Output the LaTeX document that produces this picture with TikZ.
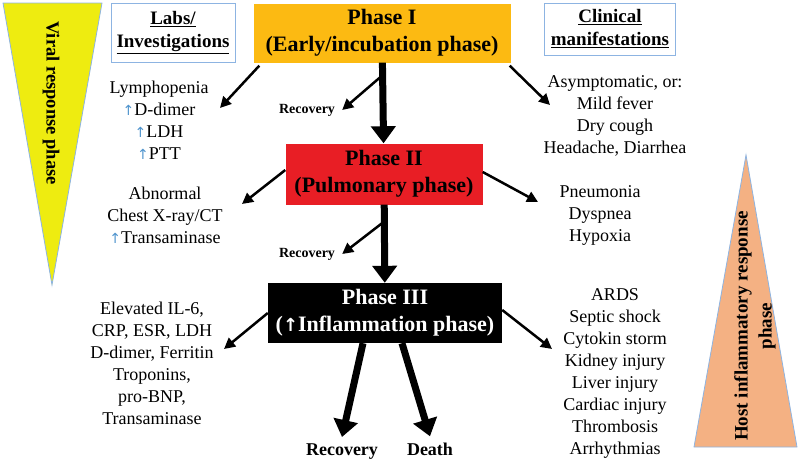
\documentclass[tikz,border=0pt]{standalone}
\usepackage{fontspec}
\setmainfont{Liberation Serif}
\newfontfamily\symfont{DejaVu Sans}
\usetikzlibrary{arrows.meta}
\definecolor{viral}{RGB}{238,236,16}
\definecolor{host}{RGB}{244,177,131}
\definecolor{gold}{RGB}{252,186,18}
\definecolor{phred}{RGB}{232,30,37}
\definecolor{edgeblue}{RGB}{141,180,226}
\definecolor{upblue}{RGB}{79,148,205}
\newcommand{\incr}{{\symfont\fontsize{14}{14}\selectfont\textcolor{upblue}{↑}}}
\newcommand{\incrw}{{\symfont\bfseries\fontsize{18}{18}\selectfont\textcolor{white}{↑}}}

\tikzstyle{phase} = [align=center,font=\fontsize{22}{27}\selectfont\bfseries,inner sep=0pt]
\tikzstyle{head} = [draw=edgeblue,line width=0.8pt,fill=white,align=center,font=\fontsize{19}{23}\selectfont\bfseries,inner sep=0pt]
\tikzstyle{list} = [align=center,font=\fontsize{18}{22}\selectfont,inner sep=1pt]
\tikzstyle{recov} = [font=\fontsize{14}{16}\selectfont\bfseries,inner sep=2pt]
\tikzstyle{outcome} = [font=\fontsize{18}{22}\selectfont\bfseries,inner sep=2pt,anchor=base]
\tikzstyle{link} = [line width=2.5pt,-{Triangle[width=11pt,length=11pt]}]
\tikzstyle{flow} = [line width=7pt,-{Triangle[width=24pt,length=17pt]}]
\tikzstyle{band} = [font=\fontsize{19}{24}\selectfont\bfseries,align=center]

\begin{document}
\begin{tikzpicture}[x=1pt,y=-1pt]
	\useasboundingbox (0,0) rectangle (800,463);
	\draw[fill=viral,draw=edgeblue,line width=0.8pt] (3,3) -- (102,3) -- (52,285) -- cycle;
	\draw[fill=host,draw=edgeblue,line width=0.8pt] (746,155) -- (797,447) -- (694,447) -- cycle;
	\node[band,font=\fontsize{18.5}{23}\selectfont\bfseries,rotate=-90] (vir) at (51,103) {Viral response phase};
	\node[band,rotate=90] (hst) at (755,326) {Host inflammatory response\\phase};
	\node[head,minimum width=124pt,minimum height=59pt] (labs) at (173,33) {\underline{Labs/}\\\underline{Investigations}};
	\node[head,minimum width=131pt,minimum height=52pt] (clin) at (610,29) {\underline{Clinical}\\\underline{manifestations}};
	\node[phase,fill=gold,minimum width=257pt,minimum height=59pt] (p1) at (382,33) {Phase I\\(Early/incubation phase)};
	\node[phase,fill=phred,minimum width=197pt,minimum height=61pt] (p2) at (384,174) {Phase II\\(Pulmonary phase)};
	\node[phase,fill=black,text=white,minimum width=234pt,minimum height=60pt] (p3) at (385,313) {Phase III\\(\incrw Inflammation phase)};
	\node[list] (l1) at (159,120) {Lymphopenia\\\incr D-dimer\\\incr LDH\\\incr PTT};
	\node[list] (l2) at (165,215) {Abnormal\\Chest X-ray/CT\\\incr Transaminase};
	\node[list] (l3) at (152,363) {Elevated IL-6,\\CRP, ESR, LDH\\D-dimer, Ferritin\\Troponins,\\pro-BNP,\\Transaminase};
	\node[list] (c1) at (615,116) {Asymptomatic, or:\\Mild fever\\Dry cough\\Headache, Diarrhea};
	\node[list] (c2) at (600,215) {Pneumonia\\Dyspnea\\Hypoxia};
	\node[list] (c3) at (615,373) {ARDS\\Septic shock\\Cytokin storm\\Kidney injury\\Liver injury\\Cardiac injury\\Thrombosis\\Arrhythmias};
	\node[recov] (r1) at (307,110) {Recovery};
	\node[recov] (r2) at (307,254) {Recovery};
	\node[outcome] (r3) at (342,455) {Recovery};
	\node[outcome] (dth) at (430,455) {Death};
	\coordinate (t1) at (220,108);
	\coordinate (t2) at (550,105);
	\coordinate (t3) at (242,204);
	\coordinate (t4) at (538,202);
	\coordinate (t5) at (224,349);
	\coordinate (t6) at (552,349);
	\draw[flow] (p1) -- (p2);
	\draw[flow] (p2) -- (p3);
	\draw[flow] ([xshift=-22pt]p3.south) -- ([yshift=4pt]r3.north);
	\draw[flow] ([xshift=17pt]p3.south) -- ([yshift=4pt]dth.north);
	\draw[link] ([yshift=-13pt]p1.south) -- ([xshift=5pt]r1.east);
	\draw[link] ([yshift=-17pt]p2.south) -- ([xshift=5pt]r2.east);
	\draw[link] ([xshift=6pt,yshift=-3pt]p1.south west) -- (t1);
	\draw[link] ([xshift=-1pt,yshift=-3pt]p1.south east) -- (t2);
	\draw[link] ([yshift=4pt]p2.west) -- (t3);
	\draw[link] ([yshift=2pt]p2.east) -- (t4);
	\draw[link] (p3.west) -- (t5);
	\draw[link] ([yshift=3pt]p3.east) -- (t6);
\end{tikzpicture}
\end{document}
